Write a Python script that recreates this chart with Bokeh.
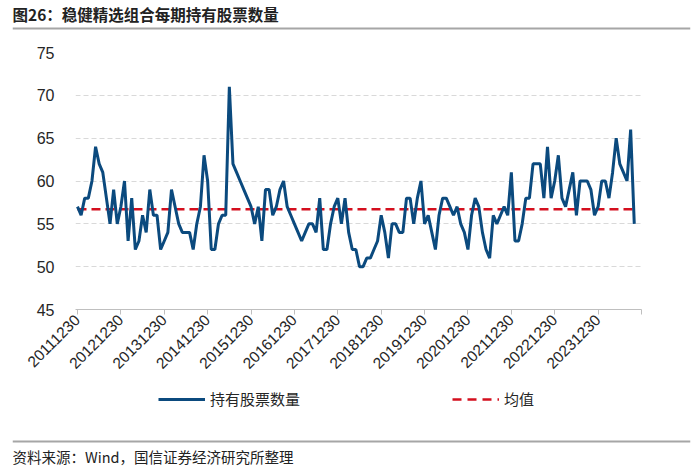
import math
from bokeh.plotting import figure
from bokeh.models import (Range1d, FixedTicker, Label, Legend, LegendItem, Span)
from bokeh.embed import file_html
from bokeh.resources import INLINE

# ---- data (monthly holdings count, Dec 2011 onward) ----
tick_positions = [0, 12, 24, 36, 48, 60, 72, 84, 96, 108, 120, 132, 144, 156]
tick_labels = ["20111230", "20121230", "20131230", "20141230", "20151230",
               "20161230", "20171230", "20181230", "20191230", "20201230",
               "20211230", "20221230", "20231230", ""]

holdings = [57, 56, 58, 58, 60, 64, 62, 61, 58, 55,
            59, 55, 57, 60, 53, 58, 52, 53, 56, 54,
            59, 56, 56, 52, 53, 54, 59, 57, 55, 54,
            54, 54, 52, 55, 57, 63, 60, 52, 52, 55,
            56, 56, 71, 62, 61, 60, 59, 58, 57, 55,
            57, 53, 59, 59, 56, 57, 59, 60, 57, 56,
            55, 54, 53, 54, 55, 55, 54, 58, 52, 52,
            55, 57, 58, 55, 58, 54, 52, 52, 50, 50,
            51, 51, 52, 53, 56, 54, 51, 55, 55, 54,
            54, 58, 58, 55, 58, 60, 55, 56, 54, 52,
            56, 58, 58, 57, 56, 57, 55, 54, 52, 56,
            58, 57, 54, 52, 51, 56, 55, 56, 57, 56,
            61, 53, 53, 55, 58, 58, 62, 62, 62, 58,
            64, 58, 60, 63, 58, 57, 59, 61, 56, 60,
            60, 60, 59, 56, 57, 60, 60, 58, 61, 65,
            62, 61, 60, 66, 55]
mean_value = 56.7

y_ticks = [45, 50, 55, 60, 65, 70, 75]

title_text = "图26：稳健精选组合每期持有股票数量"
source_text = "资料来源：Wind，国信证券经济研究所整理"
series_name = "持有股票数量"
mean_name = "均值"

BLUE = "#0b4a7e"
RED = "#d40f1e"
RULE = "#a6a6a6"
TXT = "#262626"
CJK = "Noto Sans CJK SC"

x = list(range(len(holdings)))
mean_line = [mean_value] * len(holdings)


def blank(fig):
    fig.outline_line_color = None
    fig.xaxis.visible = False
    fig.yaxis.visible = False
    fig.xgrid.grid_line_color = None
    fig.ygrid.grid_line_color = None
    fig.background_fill_color = "white"
    fig.border_fill_color = "white"


# ---- header: title + rule ----
HEAD_H = 40
head = figure(width=700, height=HEAD_H, output_backend="svg", toolbar_location=None,
              title=None, x_range=Range1d(0, 678), y_range=Range1d(HEAD_H, 0),
              min_border_left=12, min_border_right=10, min_border_top=0,
              min_border_bottom=0)
blank(head)
head.add_layout(Label(x=0, y=13, text=title_text, text_font=CJK,
                      text_font_size="15.5px", text_font_style="bold",
                      text_color="#222222", text_baseline="middle"))
head.add_layout(Span(location=28, dimension="width", line_color=RULE, line_width=2))

# ---- main chart ----
MAIN_H = 349
p = figure(width=700, height=MAIN_H, output_backend="svg", toolbar_location=None,
           title=None,
           x_range=Range1d(-0.55, 156), y_range=Range1d(45, 75),
           min_border_left=75, min_border_right=59,
           min_border_top=12, min_border_bottom=80)
p.outline_line_color = None
p.background_fill_color = "white"
p.border_fill_color = "white"

p.xgrid.grid_line_color = None
p.ygrid.ticker = FixedTicker(ticks=y_ticks)
p.ygrid.grid_line_color = "#d9d9d9"
p.ygrid.grid_line_dash = "5 3"
p.ygrid.grid_line_width = 1

p.yaxis.ticker = FixedTicker(ticks=y_ticks)
p.yaxis.axis_line_color = None
p.yaxis.major_tick_line_color = None
p.yaxis.minor_tick_line_color = None
p.yaxis.major_label_standoff = 15
p.yaxis.major_label_text_font = "Liberation Sans"
p.yaxis.major_label_text_font_size = "16px"
p.yaxis.major_label_text_color = TXT

p.xaxis.ticker = FixedTicker(ticks=tick_positions)
p.xaxis.major_label_overrides = {t: l for t, l in zip(tick_positions, tick_labels)}
p.xaxis.axis_line_color = "#bfbfbf"
p.xaxis.major_tick_line_color = "#bfbfbf"
p.xaxis.major_tick_out = 5
p.xaxis.major_tick_in = 0
p.xaxis.minor_tick_line_color = None
p.xaxis.major_label_orientation = math.pi / 4
p.xaxis.major_label_standoff = 3
p.xaxis.major_label_text_font = "Liberation Sans"
p.xaxis.major_label_text_font_size = "15.5px"
p.xaxis.major_label_text_color = TXT

p.line(x, mean_line, line_color=RED, line_width=2.5, line_dash="9 5")
p.line(x, holdings, line_color=BLUE, line_width=3)

# ---- footer: legend, rule, source ----
FOOT_H = 82
foot = figure(width=700, height=FOOT_H, output_backend="svg", toolbar_location=None,
              title=None, x_range=Range1d(0, 678), y_range=Range1d(FOOT_H, 0),
              min_border_left=12, min_border_right=10, min_border_top=0,
              min_border_bottom=0)
blank(foot)
# legend proxies (single-point lines draw nothing; only their legend glyphs show)
leg_main = foot.line(x=[0], y=[0], line_color=BLUE, line_width=3)
leg_mean = foot.line(x=[0], y=[0], line_color=RED, line_width=2.5, line_dash="9 6")
legend = Legend(items=[LegendItem(label=series_name, renderers=[leg_main]),
                       LegendItem(label=mean_name, renderers=[leg_mean])],
                location=(146, FOOT_H - 20), orientation="horizontal",
                spacing=152, glyph_width=47, glyph_height=20, label_height=20,
                label_standoff=5, padding=0, margin=0,
                border_line_color=None, background_fill_alpha=0,
                label_text_font=CJK, label_text_font_size="15px",
                label_text_color=TXT)
foot.add_layout(legend, "center")
foot.add_layout(Span(location=52, dimension="width", line_color=RULE, line_width=2))
foot.add_layout(Label(x=0, y=67, text=source_text, text_font=CJK,
                      text_font_size="14.5px", text_color="#222222",
                      text_baseline="middle"))

open("out.html", "w").write(file_html([head, p, foot], INLINE))
